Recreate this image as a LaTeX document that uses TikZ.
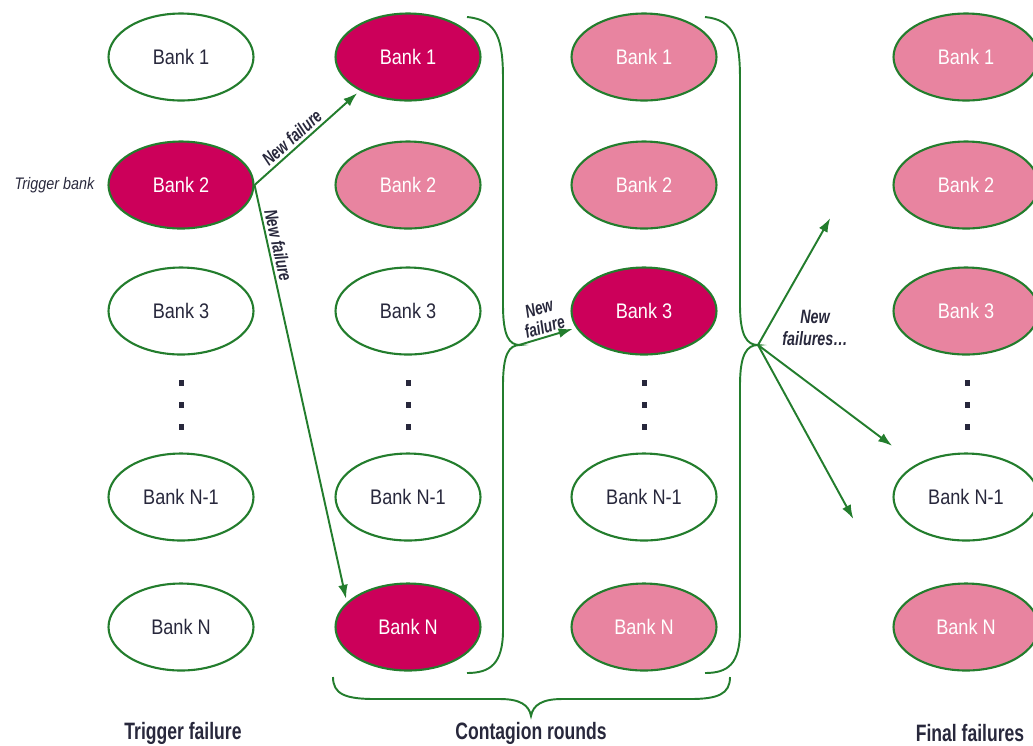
\documentclass[tikz,border=0pt]{standalone}
\usepackage{fontspec}
\setmainfont{Liberation Sans}[FakeStretch=0.86]
\newfontfamily\headfont{Liberation Sans}[FakeStretch=0.74]
\usetikzlibrary{shapes.geometric}
\usetikzlibrary{arrows.meta}
\usetikzlibrary{positioning}
\definecolor{bankline}{RGB}{35,125,45}
\definecolor{hitred}{RGB}{204,0,90}
\definecolor{hitpink}{RGB}{232,132,160}
\definecolor{inktext}{RGB}{40,40,60}

\begin{document}
\begin{tikzpicture}[x=0.02cm, y=-0.02cm,
    bank/.style={ellipse, draw=bankline, line width=1.2pt, fill=white,
      minimum width=2.9cm, minimum height=1.74cm, inner sep=0pt,
      text=inktext, font=\fontsize{12}{12}\selectfont},
    newfail/.style={bank, fill=hitred, text=white},
    oldfail/.style={bank, fill=hitpink, text=white},
    spread/.style={draw=bankline, line width=1.1pt},
    hit/.style={spread, -{Latex[length=8pt, width=5.5pt]}, shorten >=2pt},
    tag/.style={font=\headfont\bfseries\itshape\fontsize{10.5}{11}\selectfont, text=inktext, inner sep=1.5pt},
    foot/.style={font=\headfont\bfseries\fontsize{13.5}{14}\selectfont, text=inktext}]
    \useasboundingbox (0,0) rectangle (1033,745);

    % trigger failure
    \node[bank] (t1) at (181,57) {Bank 1};
    \node[newfail] (t2) at (181,185) {Bank 2};
    \node[bank] (t3) at (181,311) {Bank 3};
    \node[bank] (t4) at (181,497) {Bank N-1};
    \node[bank] (t5) at (181,627) {Bank N};
    \node[left=4pt of t2, font=\itshape\fontsize{9.5}{10}\selectfont, text=inktext] (trig) {Trigger bank};

    % first round
    \node[newfail] (a1) at (408,57) {Bank 1};
    \node[oldfail] (a2) at (408,185) {Bank 2};
    \node[bank] (a3) at (408,311) {Bank 3};
    \node[bank] (a4) at (408,497) {Bank N-1};
    \node[newfail] (a5) at (408,627) {Bank N};

    % second round
    \node[oldfail] (b1) at (644,57) {Bank 1};
    \node[oldfail] (b2) at (644,185) {Bank 2};
    \node[newfail] (b3) at (644,311) {Bank 3};
    \node[bank] (b4) at (644,497) {Bank N-1};
    \node[oldfail] (b5) at (644,627) {Bank N};

    % final failures
    \node[oldfail] (f1) at (966,57) {Bank 1};
    \node[oldfail] (f2) at (966,185) {Bank 2};
    \node[oldfail] (f3) at (966,311) {Bank 3};
    \node[bank] (f4) at (966,497) {Bank N-1};
    \node[oldfail] (f5) at (966,627) {Bank N};

    \foreach \x in {181,408,644,967}
      \foreach \y in {383,405,427}
        \fill[inktext] (\x-2.5,\y-3) rectangle (\x+2.5,\y+3);

    \draw[hit] (t2.east) -- (a1.215) node[pos=0.42, above, sloped, tag] {New failure};
    \draw[hit] (t2.east) -- (a5.158) node[pos=0.15, above, sloped, tag] {New failure};

    % braces round the rounds
    \draw[spread] (467,17) .. controls (498,20) and (503,40) .. (503,80) -- (503,305)
      .. controls (503,336) and (509,345) .. (520,345)
      .. controls (509,345) and (503,354) .. (503,385) -- (503,630)
      .. controls (503,664) and (490,673) .. (467,673);
    \coordinate (tipA) at (519,345);
    \draw[spread] (705,17) .. controls (735,20) and (740,40) .. (740,80) -- (740,305)
      .. controls (740,336) and (747,345) .. (758,345)
      .. controls (747,345) and (740,354) .. (740,385) -- (740,630)
      .. controls (740,664) and (728,673) .. (705,673);
    \coordinate (tipB) at (758,345);

    \draw[hit] (tipA) -- (b3.194) node[midway, above, sloped, tag, align=center] {New\\failure};

    \coordinate (up) at (832,215);
    \coordinate (mid) at (895,448);
    \coordinate (low) at (855,522);
    \draw[hit] (tipB) -- (up);
    \draw[hit] (tipB) -- (mid);
    \draw[hit] (tipB) -- (low);
    \node[tag, align=center, font=\headfont\bfseries\itshape\fontsize{11}{12.5}\selectfont] (more) at (815,328) {New\\failures\ldots};

    \draw[spread] (333,677) .. controls (333,694) and (345,699) .. (375,699) -- (500,699)
      .. controls (520,699) and (529,705) .. (531,716)
      .. controls (533,705) and (542,699) .. (562,699) -- (690,699)
      .. controls (718,699) and (730,694) .. (730,677);

    \node[foot] (lbl1) at (183,733) {Trigger failure};
    \node[foot] (lbl2) at (531,733) {Contagion rounds};
    \node[foot] (lbl3) at (970,733) {Final failures};
\end{tikzpicture}
\end{document}
